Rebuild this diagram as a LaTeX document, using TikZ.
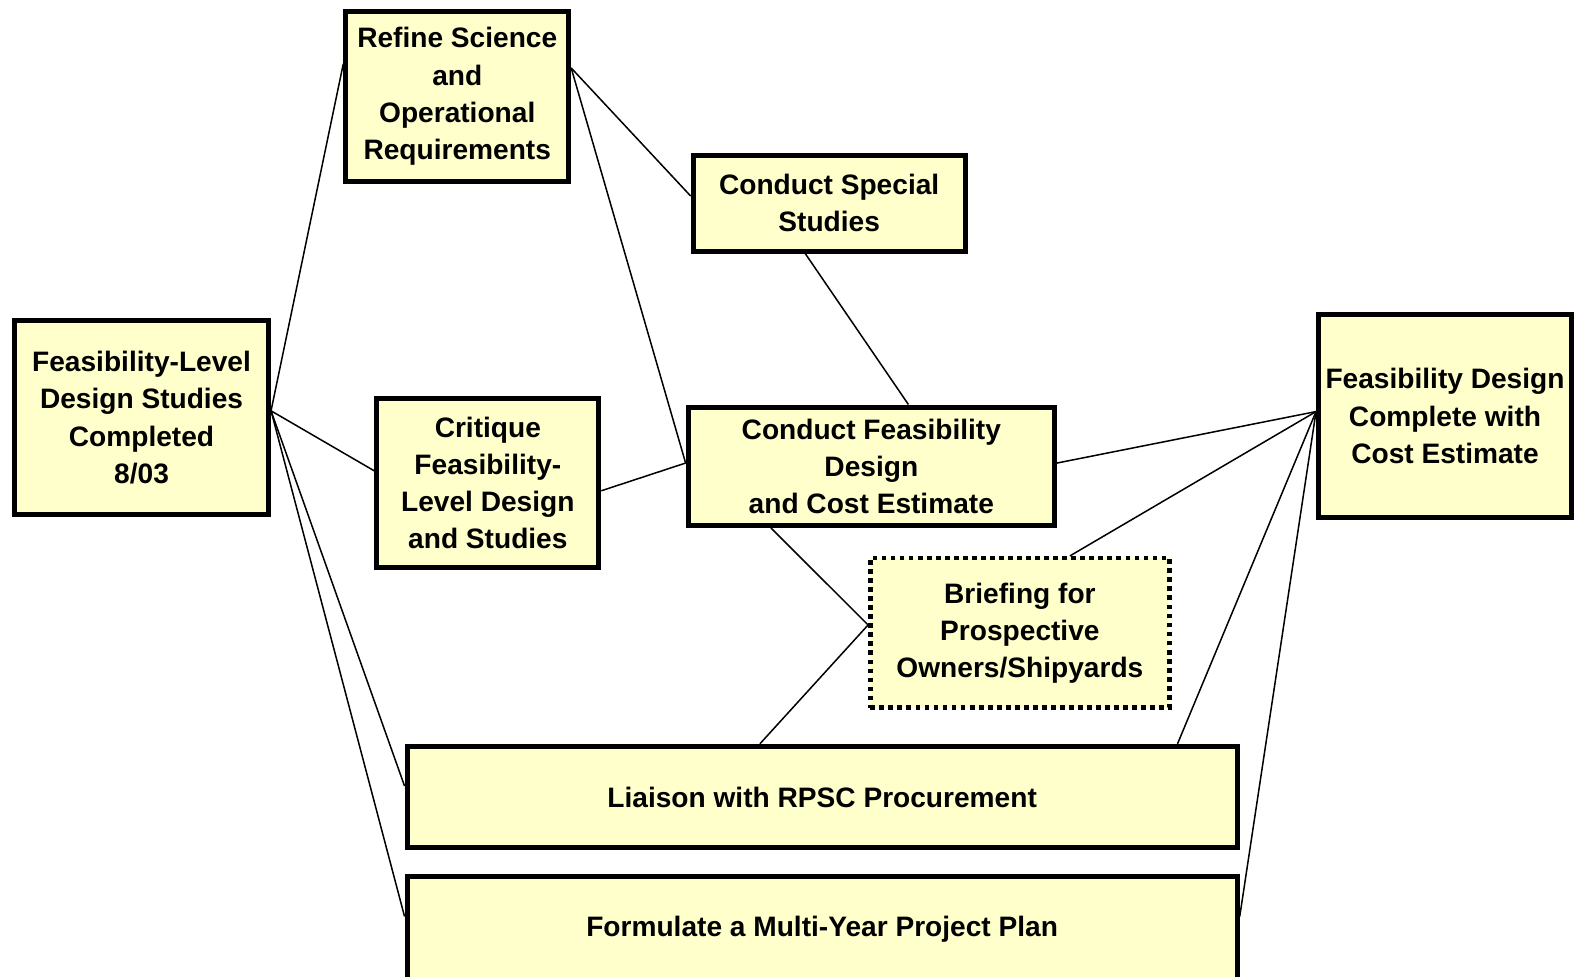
\documentclass[tikz,border=0pt]{standalone}
\usepackage{fontspec}
\setmainfont{Liberation Sans}
\definecolor{boxfill}{HTML}{FFFFCC}

\begin{document}
\begin{tikzpicture}[x=0.5pt,y=-0.5pt,
		task/.style={draw, line width=2.5pt, fill=boxfill, align=center, inner sep=0pt,
			font=\fontsize{14}{18.5}\selectfont\bfseries},
		briefbox/.style={task, line width=2.2pt, dash pattern=on 2.4pt off 2.1pt},
		link/.style={line width=0.75pt}]
		\useasboundingbox (0, 0) rectangle (1568, 973);
		\clip (0, 0) rectangle (1568, 973);
		%%%%%%%%%%%%%
		\node[task, minimum width=126.5pt, minimum height=96.5pt] (start) at (141, 416)
			{Feasibility-Level\\Design Studies\\Completed\\8/03};
		\node[task, minimum width=111pt, minimum height=85pt] (refine) at (455.5, 96)
			{Refine Science\\and\\Operational\\Requirements};
		\node[task, minimum width=135.5pt, minimum height=48pt] (special) at (826, 202.5)
			{Conduct Special\\Studies};
		\node[task, minimum width=110.5pt, minimum height=84.5pt] (critique) at (486, 481)
			{Critique\\Feasibility-\\Level Design\\and Studies};
		\node[task, minimum width=182.5pt, minimum height=59pt] (design) at (868, 464.5)
			{Conduct Feasibility\\Design\\and Cost Estimate};
		\node[briefbox, minimum width=149pt, minimum height=74.5pt] (brief) at (1016, 630.5)
			{Briefing for\\Prospective\\Owners/Shipyards};
		\node[task, minimum width=126pt, minimum height=101pt] (done) at (1439.5, 414.5)
			{Feasibility Design\\Complete with\\Cost Estimate};
		\node[task, minimum width=413.5pt, minimum height=50.5pt] (liaison) at (819, 794)
			{Liaison with RPSC Procurement};
		\node[task, minimum width=413.5pt, minimum height=53pt] (plan) at (819, 926)
			{Formulate a Multi-Year Project Plan};
		%%%%%%%%%%%%%
		\draw [link] (start.3) to (refine.164);
		\draw [link] (start.3) to (critique.174);
		\draw [link] (start.3) to ([yshift=5.5pt]liaison.west);
		\draw [link] (start.3) to ([yshift=6.5pt]plan.west);
		\draw [link] (refine.14) to (special.177);
		\draw [link] (refine.14) to (design.179);
		\draw [link] (critique.-4) to (design.179);
		\draw [link] (special.245) to (design.59);
		\draw [link] ([xshift=-50pt]design.south) to (brief.177);
		\draw [link] (brief.177) to ([xshift=-31pt]liaison.north);
		\draw [link] (design.1) to (done.178);
		\draw [link] (brief.57) to (done.178);
		\draw [link] ([xshift=177pt]liaison.north) to (done.178);
		\draw [link] ([yshift=6.5pt]plan.east) to (done.178);
	\end{tikzpicture}
\end{document}
